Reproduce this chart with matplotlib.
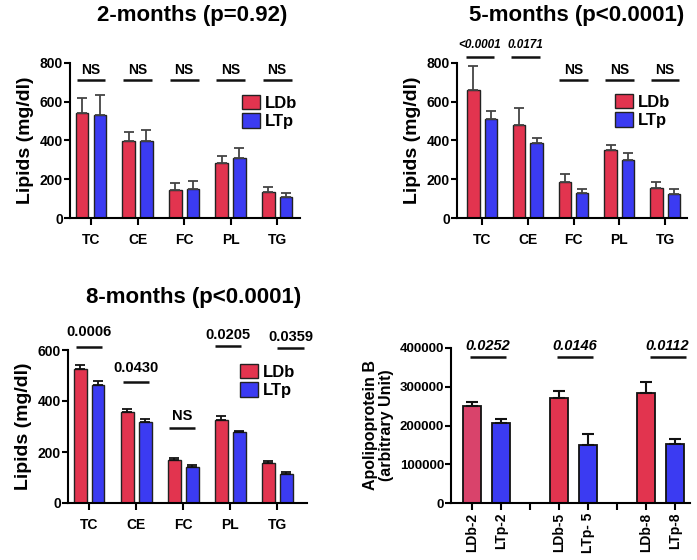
import matplotlib
matplotlib.use("Agg")
import matplotlib.pyplot as plt
import numpy as np

plt.rcParams['font.family'] = ['Liberation Sans', 'DejaVu Sans']
plt.rcParams['font.weight'] = 'bold'

W, H = 697, 560

categories = ["TC", "CE", "FC", "PL", "TG"]
groups = ["LDb", "LTp"]

# 2 months
m2_ldb = [543, 398, 145, 283, 133]
m2_ldb_err = [76, 47, 36, 36, 26]
m2_ltp = [533, 397, 148, 312, 107]
m2_ltp_err = [101, 55, 45, 47, 24]
m2_annot = ["NS", "NS", "NS", "NS", "NS"]

# 5 months
m5_ldb = [659, 479, 186, 352, 155]
m5_ldb_err = [125, 88, 43, 24, 33]
m5_ltp = [512, 386, 129, 298, 124]
m5_ltp_err = [38, 26, 19, 38, 24]
m5_annot = ["<0.0001", "0.0171", "NS", "NS", "NS"]

# 8 months
m8_ldb = [524, 358, 167, 326, 156]
m8_ldb_err = [17, 10, 8, 17, 10]
m8_ltp = [463, 319, 143, 280, 115]
m8_ltp_err = [15, 10, 7, 3, 6]
m8_annot = ["0.0006", "0.0430", "NS", "0.0205", "0.0359"]

# ApoB
apob_labels = ["LDb-2", "LTp-2", "LDb-5", "LTp- 5", "LDb-8", "LTp-8"]
apob_vals = [251000, 206500, 271000, 150500, 283900, 152300]
apob_err = [8800, 10300, 19000, 27500, 27500, 12900]
apob_annot = ["0.0252", "0.0146", "0.0112"]

RED = '#E2344F'
PINK = '#D9436B'
BLUE = '#3B3BF2'

fig = plt.figure(figsize=(W / 100, H / 100), dpi=100)


def ax_px(left, right, top, bottom):
    return fig.add_axes([left / W, 1 - bottom / H, (right - left) / W, (bottom - top) / H])


def style(ax, ytickfs=10, xtickfs=10):
    for s in ['top', 'right']:
        ax.spines[s].set_visible(False)
    for s in ['left', 'bottom']:
        ax.spines[s].set_linewidth(1.5)
    ax.tick_params(axis='y', length=4, width=1.5, pad=1, labelsize=ytickfs)
    ax.tick_params(axis='x', length=5, width=1.5, pad=6, labelsize=xtickfs)
    for lab in ax.get_xticklabels() + ax.get_yticklabels():
        lab.set_fontweight('bold')


def lipid_panel(ax, ldb, ldb_err, ltp, ltp_err, ymax, ecolor, xlim):
    x = np.arange(len(categories))
    w, off = 0.27, 0.19
    ekw = dict(ecolor=ecolor, capsize=3.5, elinewidth=1.3, capthick=1.3)
    ax.bar(x - off, ldb, w, color=RED, edgecolor='#222222', linewidth=1.0,
           yerr=[np.zeros(len(ldb)), ldb_err], error_kw=ekw, label=groups[0], zorder=2)
    ax.bar(x + off, ltp, w, color=BLUE, edgecolor='#222222', linewidth=1.0,
           yerr=[np.zeros(len(ltp)), ltp_err], error_kw=ekw, label=groups[1], zorder=2)
    ax.set_xticks(x)
    ax.set_xticklabels(categories)
    ax.set_ylim(0, ymax)
    ax.set_yticks(np.arange(0, ymax + 1, 200))
    ax.set_xlim(*xlim)
    ax.set_ylabel("Lipids (mg/dl)", fontsize=14, fontweight='bold', labelpad=4)
    style(ax)


def annotate(ax, xc, yline, ytext, text, fs=10, italic=False, half=0.31):
    ax.plot([xc - half, xc + half], [yline, yline], color='#111111', lw=1.8, clip_on=False,
            solid_capstyle='butt')
    ax.text(xc, ytext, text, ha='center', va='center', fontsize=fs, fontweight='bold',
            style='italic' if italic else 'normal', clip_on=False)


def legend(ax, x_px, y_px):
    leg = ax.legend(loc='upper left', bbox_to_anchor=(x_px / W, 1 - y_px / H),
                    bbox_transform=fig.transFigure, frameon=False, fontsize=12,
                    handlelength=1.1, handleheight=0.95, handletextpad=0.3,
                    labelspacing=0.15, borderpad=0, borderaxespad=0)
    for t in leg.get_texts():
        t.set_fontweight('bold')
    for p in leg.get_patches():
        p.set_edgecolor('#222222')


# Panel 1
ax1 = ax_px(70, 300, 63, 218)
lipid_panel(ax1, m2_ldb, m2_ldb_err, m2_ltp, m2_ltp_err, 800, '#444444', (-0.45, 4.49))
for i, t in enumerate(m2_annot):
    annotate(ax1, i, 710, 765, t, fs=10)
legend(ax1, 242, 95)
fig.text(192 / W, 1 - 16 / H, "2-months (p=0.92)", ha='center', va='center', fontsize=16, fontweight='bold')

# Panel 2
ax2 = ax_px(457, 687, 63, 218)
lipid_panel(ax2, m5_ldb, m5_ldb_err, m5_ltp, m5_ltp_err, 800, '#444444', (-0.55, 4.48))
for i, t in enumerate(m5_annot):
    if t == "NS":
        annotate(ax2, i, 710, 765, t, fs=10)
    else:
        annotate(ax2, i - 0.05, 833, 893, t, fs=8.5, italic=True)
legend(ax2, 615, 94)
fig.text(577 / W, 1 - 16 / H, "5-months (p<0.0001)", ha='center', va='center', fontsize=16, fontweight='bold')

# Panel 3
ax3 = ax_px(68, 307, 350, 503)
lipid_panel(ax3, m8_ldb, m8_ldb_err, m8_ltp, m8_ltp_err, 600, '#111111', (-0.45, 4.63))
line_y = [612, 475, 294, 616, 608]
text_y = [670, 529, 341, 659, 651]
x_shift = [0.0, 0.0, -0.03, -0.05, 0.28]
for i, t in enumerate(m8_annot):
    annotate(ax3, i + x_shift[i], line_y[i], text_y[i], t, fs=10.5, half=0.28)
legend(ax3, 240, 364)
fig.text(194 / W, 1 - 297 / H, "8-months (p<0.0001)", ha='center', va='center', fontsize=16, fontweight='bold')

# Panel 4
ax4 = ax_px(451, 690, 348, 503)
xpos = [0, 1, 3, 4, 6, 7]
colors = [PINK, BLUE, RED, BLUE, RED, BLUE]
ax4.bar(xpos, apob_vals, 0.63, color=colors, edgecolor='#111111', linewidth=1.3,
        yerr=[np.zeros(len(apob_vals)), apob_err],
        error_kw=dict(ecolor='#111111', capsize=4, elinewidth=1.5, capthick=1.5), zorder=2)
ax4.set_ylim(0, 400000)
ax4.set_yticks(np.arange(0, 400001, 100000))
ax4.set_xlim(-0.72, 7.52)
ticks = list(range(8))
labs = []
k = 0
for t in ticks:
    if t in xpos:
        labs.append(apob_labels[k])
        k += 1
    else:
        labs.append("")
ax4.set_xticks(ticks)
ax4.set_xticklabels(labs, rotation=90)
style(ax4, ytickfs=9.5, xtickfs=10)
ax4.tick_params(axis='x', pad=2)
ax4.set_ylabel("Apolipoprotein B\n(arbitrary Unit)", fontsize=11.5, fontweight='bold', labelpad=4, linespacing=1.1)
apob_centers = [0.55, 3.55, 6.75]
for j, t in enumerate(apob_annot):
    annotate(ax4, apob_centers[j], 376800, 406000, t, fs=10.5, italic=True, half=0.62)

fig.savefig("out.png", dpi=100)
